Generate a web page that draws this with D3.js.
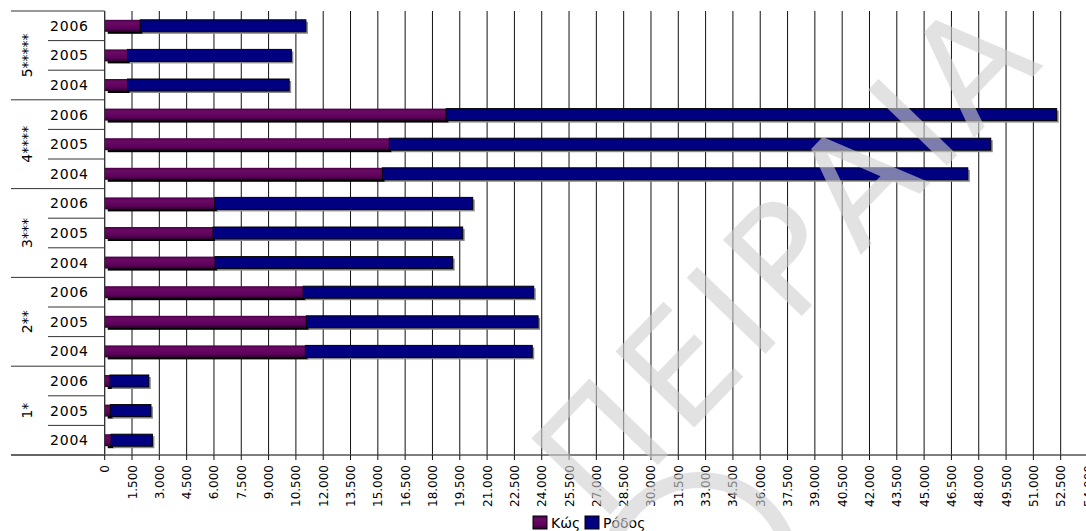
<!DOCTYPE html>
<html>
<head>
<meta charset="utf-8">
<script src="https://cdn.jsdelivr.net/npm/d3@7"></script>
<style>
  html, body { margin: 0; padding: 0; background: #fff; }
  svg { display: block; font-family: "DejaVu Sans", Verdana, sans-serif; }
</style>
</head>
<body>
<svg id="chart" width="1086" height="531"></svg>
<script>
// ---- data (top row first) ----
const groups = ["5*****", "4****", "3***", "2**", "1*"];
const years = ["2006", "2005", "2004"];
const seriesNames = ["Κώς", "Ρόδος"];
// values per group, per year (2006, 2005, 2004)
const kos = [
  [1950, 1250, 1250],      // 5*****
  [18750, 15630, 15250],   // 4****
  [6050, 5950, 6060],      // 3***
  [10900, 11070, 11020],   // 2**
  [280, 310, 350]          // 1*
];
const rodos = [
  [9100, 9000, 8880],
  [33530, 33030, 32150],
  [14160, 13710, 13050],
  [12660, 12730, 12460],
  [2140, 2230, 2270]
];
const tickValues = d3.range(0, 54001, 1500);

// ---- layout ----
const svg = d3.select("#chart");
const W = 1086, H = 531;
const plotLeft = 104.7, plotTop = 11, plotBottom = 455;
const x = d3.scaleLinear().domain([0, 54000]).range([plotLeft, 1088]);

const rows = [];
groups.forEach((g, gi) => years.forEach((y, yi) => {
  rows.push({ key: g + "|" + y, group: g, year: y, kos: kos[gi][yi], rodos: rodos[gi][yi] });
}));
const yBand = d3.scaleBand().domain(rows.map(r => r.key)).range([plotTop, plotBottom]).padding(0);
const barH = 12;
const barOff = (yBand.bandwidth() - barH) / 2;

const greek = d3.formatLocale({ decimal: ",", thousands: ".", grouping: [3], currency: ["", "€"] });
const fmt = greek.format(",");

// gradient for Kos
const defs = svg.append("defs");
const grad = defs.append("linearGradient").attr("id", "kosGrad").attr("x1", 0).attr("y1", 0).attr("x2", 0).attr("y2", 1);
grad.append("stop").attr("offset", "0%").attr("stop-color", "#4a0048");
grad.append("stop").attr("offset", "25%").attr("stop-color", "#6a0a64");
grad.append("stop").attr("offset", "70%").attr("stop-color", "#5e005c");
grad.append("stop").attr("offset", "100%").attr("stop-color", "#2e002e");

// gridlines
svg.append("g").selectAll("line").data(tickValues).join("line")
  .attr("x1", d => x(d)).attr("x2", d => x(d))
  .attr("y1", plotTop).attr("y2", plotBottom)
  .attr("stroke", "#111").attr("stroke-width", 1);

// bars
const bars = svg.append("g");
bars.selectAll("rect.shk").data(rows).join("rect").attr("class", "shk")
  .attr("x", d => x(0) + 3).attr("y", d => yBand(d.key) + barOff + 2)
  .attr("width", d => x(d.kos) - x(0)).attr("height", barH)
  .attr("fill", "#000");
bars.selectAll("rect.shr").data(rows).join("rect").attr("class", "shr")
  .attr("x", d => x(d.kos) + 2).attr("y", d => yBand(d.key) + barOff + 2)
  .attr("width", d => x(d.kos + d.rodos) - x(d.kos)).attr("height", barH)
  .attr("fill", "#8a8a8a");
bars.selectAll("rect.kos").data(rows).join("rect").attr("class", "kos")
  .attr("x", d => x(0)).attr("y", d => yBand(d.key) + barOff)
  .attr("width", d => x(d.kos) - x(0)).attr("height", barH)
  .attr("fill", "url(#kosGrad)");
bars.selectAll("rect.rod").data(rows).join("rect").attr("class", "rod")
  .attr("x", d => x(d.kos)).attr("y", d => yBand(d.key) + barOff)
  .attr("width", d => x(d.kos + d.rodos) - x(d.kos)).attr("height", barH)
  .attr("fill", "#000080").attr("stroke", "#000").attr("stroke-width", 1);

// category axis structure
const catG = svg.append("g");
catG.append("line").attr("x1", plotLeft).attr("x2", plotLeft).attr("y1", plotTop).attr("y2", plotBottom)
  .attr("stroke", "#333");
const groupEdges = groups.map(g => yBand(g + "|" + years[0])).concat([plotBottom]);
catG.selectAll("line.gsep").data(groupEdges).join("line").attr("class", "gsep")
  .attr("x1", 11).attr("x2", plotLeft).attr("y1", d => d).attr("y2", d => d)
  .attr("stroke", "#333");
const yearEdges = rows.filter(r => r.year !== years[0]).map(r => yBand(r.key));
catG.selectAll("line.ysep").data(yearEdges).join("line").attr("class", "ysep")
  .attr("x1", 48).attr("x2", plotLeft).attr("y1", d => d).attr("y2", d => d)
  .attr("stroke", "#333");
catG.selectAll("text.yr").data(rows).join("text").attr("class", "yr")
  .attr("x", 50).attr("y", d => yBand(d.key) + yBand.bandwidth() / 2 + 5)
  .attr("font-size", 14).attr("letter-spacing", 0.8).attr("fill", "#000").text(d => d.year);
catG.selectAll("text.grp").data(groups).join("text").attr("class", "grp")
  .attr("transform", g => {
    const c = (yBand(g + "|" + years[0]) + yBand(g + "|" + years[2]) + yBand.bandwidth()) / 2;
    return `translate(32,${c}) rotate(-90)`;
  })
  .attr("text-anchor", "middle").attr("font-size", 14).attr("fill", "#000").text(g => g);

// x axis
const xAxis = svg.append("g");
xAxis.append("line").attr("x1", 11).attr("x2", W).attr("y1", plotBottom).attr("y2", plotBottom)
  .attr("stroke", "#555").attr("stroke-width", 1.5);
xAxis.selectAll("line.tk").data(tickValues).join("line").attr("class", "tk")
  .attr("x1", d => x(d)).attr("x2", d => x(d)).attr("y1", plotBottom).attr("y2", plotBottom + 5)
  .attr("stroke", "#111");
xAxis.selectAll("text.tl").data(tickValues).join("text").attr("class", "tl")
  .attr("transform", d => `translate(${x(d) + 4.5},465) rotate(-90)`)
  .attr("text-anchor", "end").attr("font-size", 12).attr("fill", "#000")
  .text(d => fmt(d));

// legend
const colors = ["url(#kosGrad)", "#000080"];
const legX = [533, 585];
const leg = svg.append("g");
seriesNames.forEach((s, i) => {
  leg.append("rect").attr("x", legX[i]).attr("y", 516).attr("width", 14).attr("height", 13)
    .attr("fill", colors[i]).attr("stroke", "#000").attr("stroke-width", 1);
  leg.append("text").attr("x", legX[i] + 18).attr("y", 528).attr("font-size", 14).attr("fill", "#000").text(s);
});

// watermark
const wm = svg.append("g").attr("opacity", 0.6).attr("pointer-events", "none");
wm.append("text").attr("transform", "translate(600,525) rotate(-46)")
  .attr("font-size", 150).attr("fill", "#cfcfcf").attr("letter-spacing", 8)
  .text("ΠΕΙΡΑΙΑ");
wm.append("circle").attr("cx", 700).attr("cy", 572).attr("r", 92)
  .attr("fill", "none").attr("stroke", "#cfcfcf").attr("stroke-width", 16);
</script>
</body>
</html>
